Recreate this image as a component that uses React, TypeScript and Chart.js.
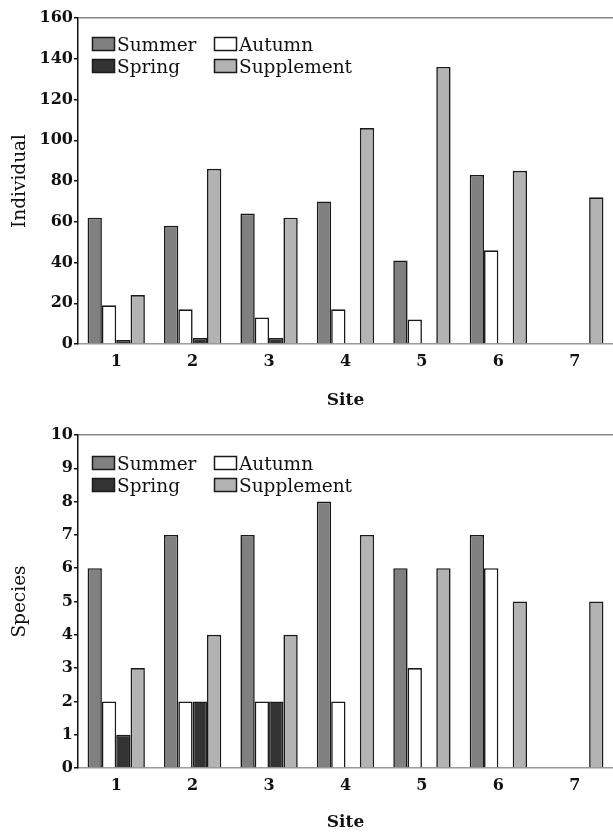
import React, { useEffect, useRef } from "react";
import { Chart, registerables } from "chart.js";
Chart.register(...registerables);

const sites = ["1", "2", "3", "4", "5", "6", "7"];
const seriesNames = ["Summer", "Autumn", "Spring", "Supplement"];

const individualSummer = [62, 58, 64, 70, 41, 83, 0];
const individualAutumn = [19, 17, 13, 17, 12, 46, 0];
const individualSpring = [2, 3, 3, 0, 0, 0, 0];
const individualSupplement = [24, 86, 62, 106, 136, 85, 72];

const speciesSummer = [6, 7, 7, 8, 6, 7, 0];
const speciesAutumn = [2, 2, 2, 2, 3, 6, 0];
const speciesSpring = [1, 2, 2, 0, 0, 0, 0];
const speciesSupplement = [3, 4, 4, 7, 6, 5, 5];

const fills = ["#808080", "#ffffff", "#333333", "#b3b3b3"];
const FONT = "'DejaVu Serif', serif";

type PanelProps = {
  series: number[][];
  yTitle: string;
  yMax: number;
  step: number;
  height: number;
  xAxisHeight: number;
  titlePadBottom: number;
  legendTop: number;
};

function Panel(props: PanelProps) {
  const ref = useRef<HTMLCanvasElement | null>(null);
  useEffect(() => {
    const canvas = ref.current;
    if (!canvas) return;
    const legendPlugin = {
      id: "boxLegend",
      afterDraw(chart: any) {
        const { ctx, chartArea } = chart;
        ctx.save();
        ctx.font = `18.5px ${FONT}`;
        ctx.textBaseline = "alphabetic";
        seriesNames.forEach((name, i) => {
          const col = i % 2;
          const row = Math.floor(i / 2);
          const bx = chartArea.left + 14 + col * 122;
          const by = chartArea.top + props.legendTop + row * 22;
          ctx.fillStyle = fills[i];
          ctx.fillRect(bx, by, 22, 13);
          ctx.strokeStyle = "#1a1a1a";
          ctx.lineWidth = 1.5;
          ctx.strokeRect(bx + 0.5, by + 0.5, 22, 13);
          ctx.fillStyle = "#111";
          ctx.fillText(name, bx + 25, by + 14);
        });
        ctx.restore();
      },
    };
    const chart = new Chart(canvas, {
      type: "bar",
      data: {
        labels: sites,
        datasets: seriesNames.map((name, i) => ({
          label: name,
          data: props.series[i],
          backgroundColor: fills[i],
          borderColor: "#1a1a1a",
          borderWidth: 1.6,
          borderSkipped: "start" as const,
          categoryPercentage: 0.75,
          barPercentage: 1.0,
        })),
      },
      options: {
        responsive: false,
        animation: false,
        layout: { padding: { top: 18, left: 0, right: 0, bottom: 0 } },
        plugins: { legend: { display: false }, tooltip: { enabled: false } },
        scales: {
          x: {
            grid: { display: false, drawTicks: false },
            border: { display: true, color: "#999", width: 1.5 },
            ticks: { color: "#111", font: { family: FONT, size: 16, weight: "bold" }, padding: 8 },
            title: {
              display: true,
              text: "Site",
              color: "#111",
              font: { family: FONT, size: 17, weight: "bold" },
              padding: { top: 0, bottom: props.titlePadBottom },
            },
            afterFit: (scale: any) => {
              scale.height = props.xAxisHeight;
            },
          },
          y: {
            min: 0,
            max: props.yMax,
            ticks: {
              stepSize: props.step,
              color: "#111",
              font: { family: FONT, size: 16, weight: "bold" },
              padding: 1,
            },
            grid: {
              drawTicks: true,
              tickLength: 4,
              tickColor: "#111",
              color: (c: any) => (c.tick && c.tick.value === props.yMax ? "#888" : "rgba(0,0,0,0)"),
              lineWidth: 1.5,
            },
            border: { display: true, color: "#111", width: 1.5 },
            title: {
              display: true,
              text: props.yTitle,
              color: "#111",
              font: { family: FONT, size: 18.5 },
              padding: { top: 9, bottom: 0 },
            },
            afterFit: (scale: any) => {
              scale.width = 78;
            },
          },
        },
      },
      plugins: [legendPlugin],
    });
    return () => chart.destroy();
  }, []);
  return <canvas ref={ref} width={613} height={props.height} style={{ display: "block" }} />;
}

export default function App() {
  return (
    <div style={{ position: "absolute", left: 0, top: 0, width: 613, height: 834, background: "#fff" }}>
      <Panel
        series={[individualSummer, individualAutumn, individualSpring, individualSupplement]}
        yTitle="Individual"
        yMax={160}
        step={20}
        height={417}
        xAxisHeight={73}
        titlePadBottom={6}
        legendTop={19}
      />
      <Panel
        series={[speciesSummer, speciesAutumn, speciesSpring, speciesSupplement]}
        yTitle="Species"
        yMax={10}
        step={1}
        height={417}
        xAxisHeight={66}
        titlePadBottom={1}
        legendTop={21}
      />
    </div>
  );
}
